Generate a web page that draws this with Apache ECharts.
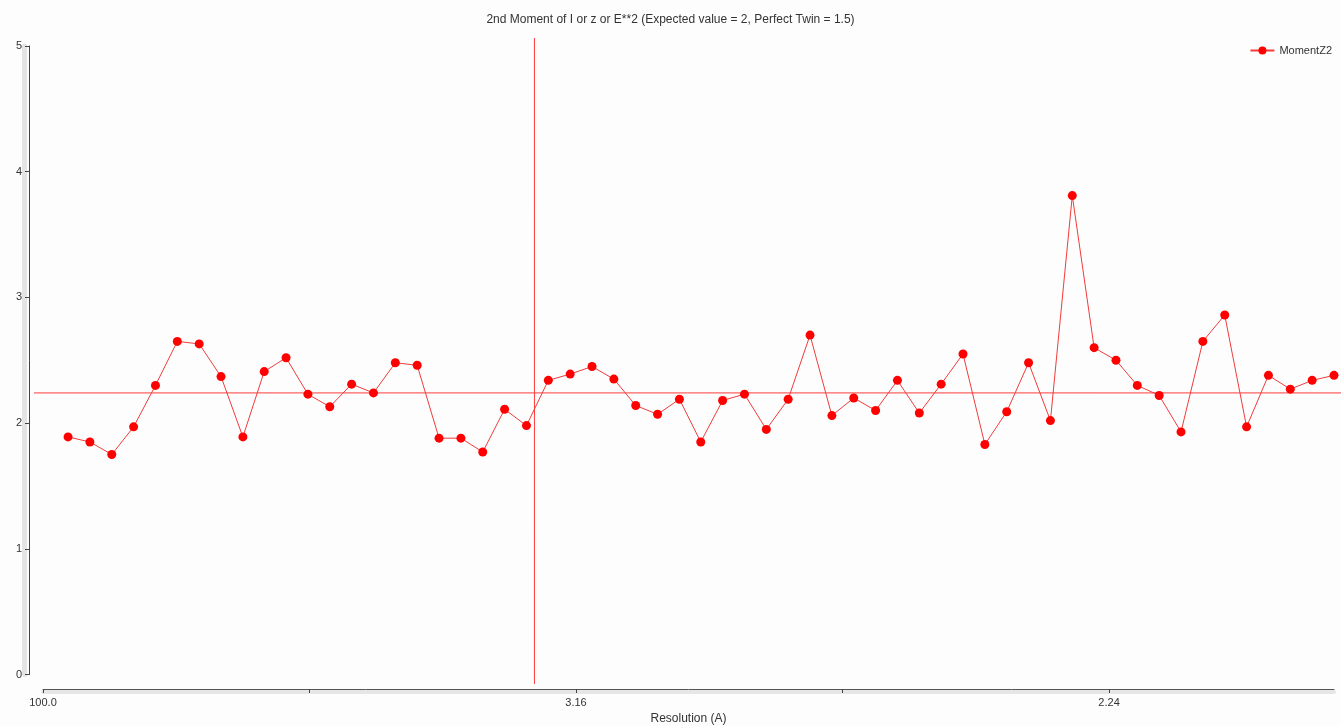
<!DOCTYPE html>
<html>
<head>
<meta charset="utf-8">
<script src="https://cdn.jsdelivr.net/npm/echarts@6/dist/echarts.min.js"></script>
<style>
html,body{margin:0;padding:0;background:#fdfdfd;}
#chart{width:1341px;height:726px;}
</style>
</head>
<body>
<div id="chart"></div>
<script>
// x positions are 1/d^2 (resolution shells)
const shellInvD2 = [0.0047,0.0088,0.0129,0.0170,0.0211,0.0252,0.0293,0.0334,0.0375,0.0415,
  0.0456,0.0497,0.0538,0.0579,0.0620,0.0661,0.0702,0.0743,0.0784,0.0825,
  0.0866,0.0907,0.0948,0.0989,0.1030,0.1071,0.1112,0.1153,0.1194,0.1234,
  0.1275,0.1316,0.1357,0.1398,0.1439,0.1480,0.1521,0.1562,0.1603,0.1644,
  0.1685,0.1726,0.1767,0.1808,0.1849,0.1890,0.1931,0.1972,0.2013,0.2053,
  0.2094,0.2135,0.2176,0.2217,0.2258,0.2299,0.2340,0.2381,0.2422];
const momentZ2 = [1.89,1.85,1.75,1.97,2.30,2.65,2.63,2.37,1.89,2.41,
  2.52,2.23,2.13,2.31,2.24,2.48,2.46,1.88,1.88,1.77,
  2.11,1.98,2.34,2.39,2.45,2.35,2.14,2.07,2.19,1.85,
  2.18,2.23,1.95,2.19,2.70,2.06,2.20,2.10,2.34,2.08,
  2.31,2.55,1.83,2.09,2.48,2.02,3.81,2.60,2.50,2.30,
  2.22,1.93,2.65,2.86,1.97,2.38,2.27,2.34,2.38];
const xTickValues = [0, 0.05, 0.1, 0.15, 0.2];
const xTickLabels = ['100.0', '', '3.16', '', '2.24'];
const yTickMin = 0, yTickMax = 5, yTickStep = 1;
const meanValue = 2.24;
const cutoffInvD2 = 0.0922;
const xMax = 0.2422;
const seriesName = 'MomentZ2';
const titleText = '2nd Moment of I or z or E**2 (Expected value = 2, Perfect Twin = 1.5)';
const xAxisName = 'Resolution (A)';

const font = 'Liberation Sans, Arial, sans-serif';
const chart = echarts.init(document.getElementById('chart'), null, {renderer: 'canvas'});

const lineRed = '#ff3b3b';

const option = {
  animation: false,
  backgroundColor: '#fdfdfd',
  title: {
    text: titleText, left: 'center', top: 9,
    textStyle: {fontFamily: font, fontSize: 12, fontWeight: 'normal', color: '#333'}
  },
  legend: {
    data: [seriesName], right: 4, top: 40, itemWidth: 24, itemHeight: 10, itemGap: 4,
    textStyle: {fontFamily: font, fontSize: 11, color: '#333'}
  },
  grid: [
    {left: 43, right: 7, top: 46, bottom: 51.5, outerBoundsMode: 'none', containLabel: false}
  ],
  xAxis: [
    {
      type: 'value', gridIndex: 0, position: 'bottom', min: 0, max: xMax, interval: 0.05, offset: 14.5,
      name: xAxisName, nameLocation: 'middle', nameGap: 24,
      nameTextStyle: {fontFamily: font, fontSize: 12, color: '#333'},
      axisLine: {show: true, onZero: false, lineStyle: {color: '#555', width: 1}},
      axisTick: {show: true, length: 4, lineStyle: {color: '#444'}},
      splitLine: {show: false},
      axisLabel: {
        fontFamily: font, fontSize: 11, color: '#333', margin: 8, showMaxLabel: false,
        formatter: function (v) {
          for (let i = 0; i < xTickValues.length; i++) {
            if (Math.abs(v - xTickValues[i]) < 1e-6) return xTickLabels[i];
          }
          return '';
        }
      }
    },
    {
      type: 'value', gridIndex: 0, position: 'bottom', min: 0, max: xMax, offset: 17.5,
      axisLine: {show: true, onZero: false, lineStyle: {color: '#e6e6e6', width: 4}},
      axisTick: {show: false}, axisLabel: {show: false}, splitLine: {show: false}
    }
  ],
  yAxis: [
    {
      type: 'value', gridIndex: 0, position: 'left', min: yTickMin, max: yTickMax, interval: yTickStep, offset: 14,
      axisLine: {show: true, onZero: false, lineStyle: {color: '#444', width: 1}},
      axisTick: {show: true, length: 4, lineStyle: {color: '#444'}},
      splitLine: {show: false},
      axisLabel: {fontFamily: font, fontSize: 11, color: '#333', margin: 7}
    },
    {
      type: 'value', gridIndex: 0, position: 'left', min: yTickMin, max: yTickMax, offset: 19,
      axisLine: {show: true, onZero: false, lineStyle: {color: '#e4e4e4', width: 5}},
      axisTick: {show: false}, axisLabel: {show: false}, splitLine: {show: false}
    }
  ],
  series: [
    {
      name: 'markers', type: 'custom', xAxisIndex: 0, yAxisIndex: 0, clip: false, silent: true,
      data: [[cutoffInvD2, meanValue]],
      renderItem: function (params, api) {
        const cs = params.coordSys;
        const p = api.coord([api.value(0), api.value(1)]);
        return {
          type: 'group',
          children: [
            {type: 'line', shape: {x1: p[0], y1: cs.y - 8, x2: p[0], y2: cs.y + cs.height + 9.5},
             style: {stroke: lineRed, lineWidth: 1}},
            {type: 'line', shape: {x1: cs.x - 9, y1: p[1], x2: api.getWidth(), y2: p[1]},
             style: {stroke: lineRed, lineWidth: 1}}
          ]
        };
      }
    },
    {
      name: seriesName, type: 'line', xAxisIndex: 0, yAxisIndex: 0,
      data: shellInvD2.map((x, i) => [x, momentZ2[i]]),
      symbol: 'circle', symbolSize: 9, showAllSymbol: true,
      itemStyle: {color: '#ff0000'},
      lineStyle: {color: '#f03c3c', width: 1}
    }
  ]
};
chart.setOption(option);
</script>
</body>
</html>
